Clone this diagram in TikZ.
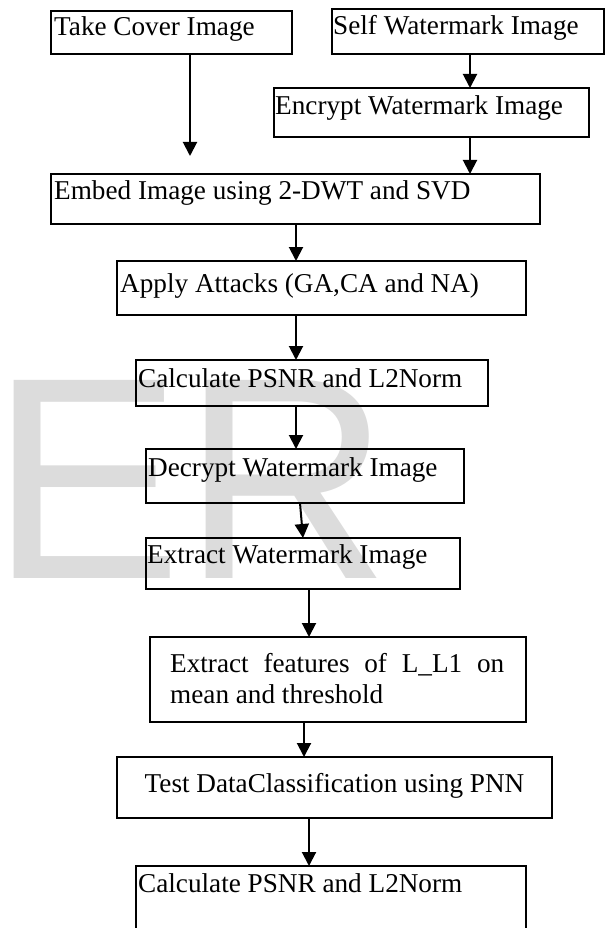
\documentclass[tikz,border=0pt]{standalone}
\usepackage{fontspec}
\setmainfont{Liberation Serif}
\newfontfamily\wmfont{Liberation Sans}
\usetikzlibrary{arrows.meta,calc}
\definecolor{wmgray}{RGB}{220,220,220}
\begin{document}
\begin{tikzpicture}[x=1pt,y=-1pt,
  box/.style={draw, line width=2pt, inner sep=0pt, outer sep=0pt, anchor=north west},
  lbl/.style={font=\fontsize{27.2}{31}\selectfont, inner sep=0pt, anchor=base west},
  arr/.style={line width=2pt, -{Triangle[width=14pt,length=14pt]}}]
\useasboundingbox (0,0) rectangle (605,928);
% watermark
\node[text=wmgray, font=\wmfont\fontsize{288}{288}\selectfont, inner sep=0pt, anchor=base west] (wm) at (-10,578) {ER};
% boxes
\node[box, minimum width=241pt, minimum height=43pt] (b1) at (51,11) {};
\node[box, minimum width=272pt, minimum height=45pt] (b2) at (332,9) {};
\node[box, minimum width=315pt, minimum height=49pt] (b3) at (274,88) {};
\node[box, minimum width=489pt, minimum height=50pt] (b4) at (51,174) {};
\node[box, minimum width=409pt, minimum height=54pt] (b5) at (117,261) {};
\node[box, minimum width=352.5pt, minimum height=46pt] (b6) at (135.5,360) {};
\node[box, minimum width=318pt, minimum height=54pt] (b7) at (146,449) {};
\node[box, minimum width=314pt, minimum height=51pt] (b8) at (146,538) {};
\node[box, minimum width=376pt, minimum height=85pt] (b9) at (150,637) {};
\node[box, minimum width=435pt, minimum height=61pt] (b10) at (117,757) {};
\node[box, minimum width=390.5pt, minimum height=84pt] (b11) at (135.5,866) {};
% labels
\node[lbl] (t1) at (54,36) {Take Cover Image};
\node[lbl] (t2) at (333,35) {Self Watermark Image};
\node[lbl] (t3) at (275,115) {Encrypt Watermark Image};
\node[lbl] (t4) at (54,200) {Embed Image using 2-DWT and SVD};
\node[lbl] (t5) at (120,292) {Apply Attacks (GA,CA and NA)};
\node[lbl] (t6) at (138,387) {Calculate PSNR and L2Norm};
\node[lbl] (t7) at (148,476) {Decrypt Watermark Image};
\node[lbl] (t8) at (147,563) {Extract Watermark Image};
\node[lbl, text width=334pt, align=justify] (t9) at (170,672) {Extract features of L\_L1 on mean and threshold};
\node[lbl, anchor=base] (t10) at (334.5,792) {Test DataClassification using PNN};
\node[lbl] (t11) at (138,892) {Calculate PSNR and L2Norm};
% connectors
\coordinate (e1) at (190,156);
\coordinate (c470) at (470,0);
\coordinate (c296) at (296,0);
\coordinate (c300) at (300,0);
\coordinate (c303) at (303,0);
\coordinate (c309) at (309,0);
\coordinate (c304) at (304,0);
\draw[arr] (b1.south -| e1) -- (e1);
\draw[arr] (b2.south -| c470) -- (b3.north -| c470);
\draw[arr] (b3.south -| c470) -- (b4.north -| c470);
\draw[arr] (b4.south -| c296) -- (b5.north -| c296);
\draw[arr] (b5.south -| c296) -- (b6.north -| c296);
\draw[arr] (b6.south -| c296) -- (b7.north -| c296);
\draw[arr] (b7.south -| c300) -- (b8.north -| c303);
\draw[arr] (b8.south -| c309) -- (b9.north -| c309);
\draw[arr] (b9.south -| c304) -- (b10.north -| c304);
\draw[arr] (b10.south -| c309) -- (b11.north -| c309);
\end{tikzpicture}
\end{document}
